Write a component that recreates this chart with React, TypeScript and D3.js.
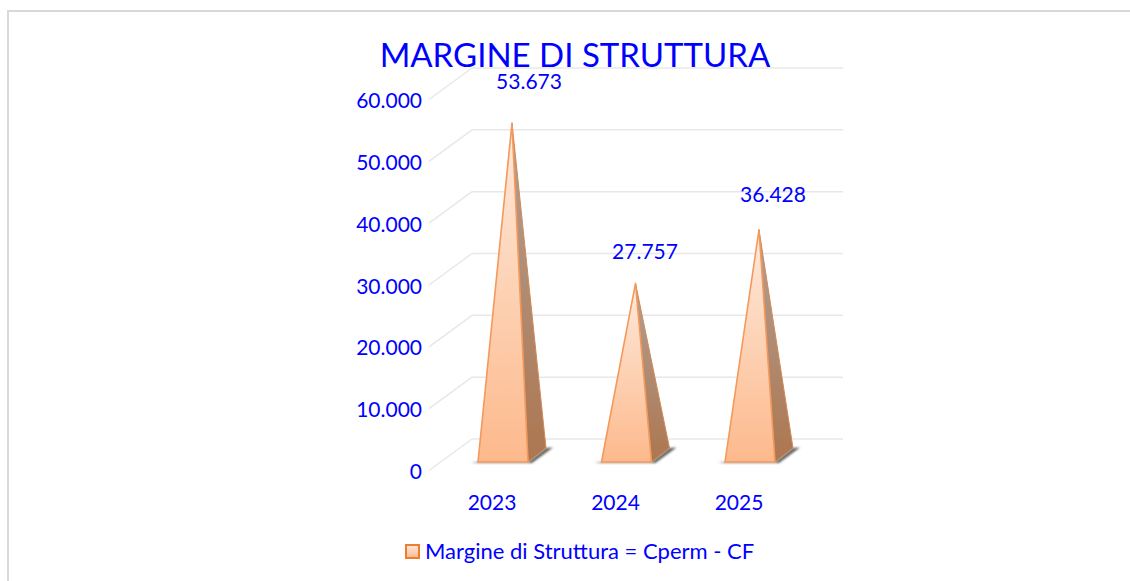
import React from 'react';
import * as d3 from 'd3';

const years = ['2023', '2024', '2025'];
const values = [53673, 27757, 36428];
const valueLabels = ['53.673', '27.757', '36.428'];
const yTicks = [0, 10000, 20000, 30000, 40000, 50000, 60000];
const legendLabel = 'Margine di Struttura = Cperm - CF';
const title = 'MARGINE DI STRUTTURA';

const BLUE = '#0000ff';
const FONT = 'Lato, sans-serif';

// wall scale (back plane of the 3d box)
const yBack = d3.scaleLinear().domain([0, 60000]).range([439, 68]);
const xBar = d3.scalePoint<string>().domain(years).range([512, 759]);

const depthX = 43; // floor depth, front to back
const depthY = 31.5;
const wallLeft = 429 + depthX;
const wallRight = 843;
// floor centre of a pyramid sits this far below the wall baseline
const floorOffset = 16;
// data labels were dragged by hand in the original, so each has its own offset from the apex
const labelDx = [17, 9.5, 14];
const labelDy = [-34, -24, -28];

const fmt = (n: number) => d3.format(',')(n).replace(/,/g, '.');

const App = () => {
    const line = d3.line();

    const pyramids = years.map((y, i) => {
        const cx = xBar(y) as number;
        const apexY = yBack(values[i]) + floorOffset;
        const apex: [number, number] = [cx, apexY];
        const frontL: [number, number] = [cx - 34, 462];
        const frontR: [number, number] = [cx + 16, 462];
        const backR: [number, number] = [cx + 34, 448];
        return { y, i, cx, apex, frontL, frontR, backR };
    });

    return (
        <svg width={1130} height={581} style={{ position: 'absolute', left: 0, top: 0 }}>
            <defs>
                <linearGradient id="front" x1="0" y1="0" x2="0" y2="1">
                    <stop offset="0" stopColor="#fde9dc" />
                    <stop offset="0.45" stopColor="#fdd4b8" />
                    <stop offset="1" stopColor="#fdb98c" />
                </linearGradient>
                <linearGradient id="side" x1="0" y1="0" x2="0" y2="1">
                    <stop offset="0" stopColor="#b2a094" />
                    <stop offset="1" stopColor="#ad7650" />
                </linearGradient>
                <linearGradient id="swatch" x1="0" y1="0" x2="0" y2="1">
                    <stop offset="0" stopColor="#fde9dc" />
                    <stop offset="1" stopColor="#fdb98c" />
                </linearGradient>
                <filter id="soft" x="-20%" y="-20%" width="140%" height="140%">
                    <feGaussianBlur stdDeviation="1.2" />
                </filter>
                <filter id="slight" x="-5%" y="-5%" width="110%" height="110%">
                    <feGaussianBlur stdDeviation="0.35" />
                </filter>
            </defs>

            <rect x={0} y={0} width={1130} height={581} fill="#fff" />
            <path d="M8 581V11H1130" fill="none" stroke="#d9d9d9" strokeWidth={2} />

            {/* gridlines, wall part and side wall part */}
            {yTicks.map(t => (
                <g key={t} fill="none" stroke="#e8e8e8" strokeWidth={1.5}>
                    <path d={line([[wallLeft, yBack(t)], [wallRight, yBack(t)]]) as string} />
                    <path d={line([[wallLeft - depthX, yBack(t) + depthY], [wallLeft, yBack(t)]]) as string} />
                </g>
            ))}

            {pyramids.map(p => (
                <g key={p.y} filter="url(#slight)">
                    <path
                        d={line([[p.frontL[0] - 7, 463], p.frontL, p.frontR, p.backR, [p.backR[0] + 7, 447.5], [p.frontR[0] + 4, 463]]) as string}
                        fill="#62625e"
                        filter="url(#soft)"
                    />
                    <path
                        d={line([p.apex, p.frontR, p.backR]) + 'Z'}
                        fill="url(#side)"
                        stroke="#d08a58"
                        strokeWidth={1}
                        strokeLinejoin="round"
                    />
                    <path
                        d={line([p.apex, p.frontL, p.frontR]) + 'Z'}
                        fill="url(#front)"
                        stroke="#f4995c"
                        strokeWidth={1.6}
                        strokeLinejoin="round"
                    />
                </g>
            ))}

            <g fontFamily={FONT} fill={BLUE}>
                <text x={575} y={67} fontSize={33} textAnchor="middle">{title}</text>
                {yTicks.map(t => (
                    <text key={t} x={422} y={yBack(t) + depthY + 8.5} fontSize={21} textAnchor="end">{fmt(t)}</text>
                ))}
                {years.map(y => (
                    <text key={y} x={(xBar(y) as number) - 20} y={510} fontSize={21} textAnchor="middle">{y}</text>
                ))}
                {pyramids.map(p => (
                    <text key={p.y} x={p.cx + labelDx[p.i]} y={p.apex[1] + labelDy[p.i]} fontSize={21} textAnchor="middle">
                        {valueLabels[p.i]}
                    </text>
                ))}
                <rect x={406} y={545} width={13} height={13} fill="url(#swatch)" stroke="#ed7d31" strokeWidth={2} />
                <text x={425} y={559} fontSize={22}>{legendLabel}</text>
            </g>
        </svg>
    );
};

export default App;
